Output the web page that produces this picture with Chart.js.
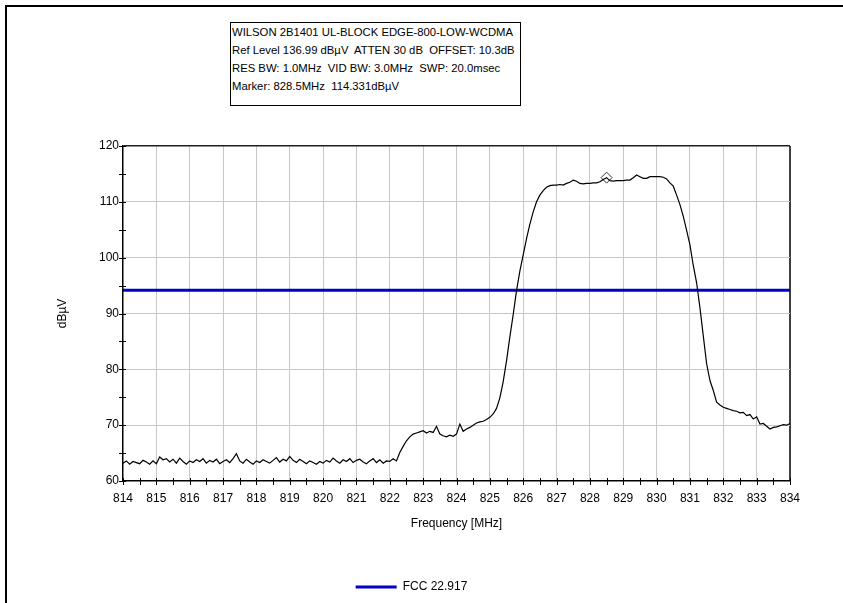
<!DOCTYPE html>
<html>
<head>
<meta charset="utf-8">
<script src="https://cdn.jsdelivr.net/npm/chart.js@4.4.1/dist/chart.umd.min.js"></script>
<style>
  body { margin: 0; background: #fff; }
  #wrap { position: relative; width: 843px; height: 603px; overflow: hidden; }
  #frame { position: absolute; left: 5px; top: 5px; width: 900px; height: 700px;
           border-top: 2px solid #000; border-left: 2px solid #000; }
  #chart { position: absolute; left: 0; top: 0; }
  #info { position: absolute; left: 230px; top: 22px; width: 288px; height: 82px;
          border: 1px solid #000; background: #fff; padding-left: 1px;
          font: 11.3px "Liberation Sans", Arial, sans-serif; line-height: 18px;
          white-space: pre; color: #000; }
</style>
</head>
<body>
<div id="wrap">
  <div id="frame"></div>
  <canvas id="chart" width="843" height="603"></canvas>
  <div id="info">WILSON 2B1401 UL-BLOCK EDGE-800-LOW-WCDMA
Ref Level 136.99 dBµV  ATTEN 30 dB  OFFSET: 10.3dB
RES BW: 1.0MHz  VID BW: 3.0MHz  SWP: 20.0msec
Marker: 828.5MHz  114.331dBµV</div>
</div>
<script>
// sweep: 814.0 .. 834.0 MHz, one reading every 0.1 MHz
var freqStart = 814;
var freqStep = 0.1;
var traceValues = [
  63.2, 63.6, 63.0, 63.5, 63.3, 63.1, 63.7, 63.4, 63.0, 63.6,
  63.1, 64.3, 63.8, 64.0, 63.4, 63.9, 63.2, 64.1, 63.5, 63.0,
  63.6, 63.3, 63.8, 63.5, 64.0, 63.2, 63.7, 63.4, 63.9, 63.1,
  63.5, 63.8, 63.3, 64.0, 64.9, 63.6, 63.2, 63.9, 63.4, 63.0,
  63.6, 63.3, 63.8, 63.5, 63.2, 63.7, 64.2, 63.4, 63.9, 63.6,
  64.4, 63.7, 63.3, 63.9, 63.5, 63.1, 63.6, 63.3, 63.0, 63.5,
  63.2, 63.7, 63.4, 64.1, 63.6, 63.2, 63.8, 63.5, 64.0, 63.3,
  63.7, 63.9, 63.4, 63.1, 63.6, 64.0, 63.3, 63.8, 63.2, 63.6,
  63.5, 64.0, 63.6, 65.1, 66.2, 67.2, 67.9, 68.4, 68.6, 68.8,
  69.0, 68.6, 68.9, 68.7, 69.8, 68.4, 68.1, 67.9, 68.2, 68.0,
  68.4, 70.2, 68.9, 69.3, 69.6, 70.0, 70.4, 70.6, 70.7, 71.0,
  71.4, 72.0, 73.0, 74.9, 77.8, 81.5, 85.8, 89.8, 94.1, 97.6,
  100.5, 103.4, 106.0, 108.2, 110.0, 111.2, 112.0, 112.6, 112.9, 113.0,
  113.0, 113.1, 113.0, 113.3, 113.5, 113.9, 113.7, 113.3, 113.2, 113.3,
  113.3, 113.4, 113.4, 113.6, 114.0, 114.33, 113.8, 113.7, 113.8, 113.8,
  113.8, 113.9, 113.9, 114.3, 114.8, 114.5, 114.2, 114.2, 114.5, 114.5,
  114.5, 114.5, 114.4, 114.1, 113.4, 112.8, 111.2, 109.5, 107.4, 104.9,
  102.3, 98.6, 95.5, 91.0, 86.0, 81.0, 78.0, 76.2, 74.1, 73.6,
  73.2, 73.0, 72.8, 72.6, 72.5, 72.2, 72.3, 71.7, 71.9, 71.1,
  71.5, 70.2, 70.3, 69.8, 69.3, 69.6, 69.7, 69.9, 70.1, 70.0,
  70.3
];
var limitLabel = 'FCC 22.917';
var limitLevel = 94.15;
var limitRange = [814, 834];
var markerFreq = 828.5;
var markerLevel = 114.331;

var tracePoints = traceValues.map(function(v, i) {
  return { x: +(freqStart + i * freqStep).toFixed(1), y: v };
});

var font = { family: '"Liberation Sans", Arial, sans-serif', size: 12 };

// small tick marks crossing the axis lines
var crossTicks = {
  id: 'crossTicks',
  afterDraw: function(chart) {
    var c = chart.ctx, a = chart.chartArea;
    var xs = chart.scales.x, ys = chart.scales.y;
    c.save();
    c.strokeStyle = '#000';
    c.lineWidth = 1;
    c.beginPath();
    xs.ticks.forEach(function(t) {
      var px = Math.round(xs.getPixelForValue(t.value)) + 0.5;
      c.moveTo(px, a.bottom - 3);
      c.lineTo(px, a.bottom + 4);
    });
    ys.ticks.forEach(function(t) {
      var py = Math.round(ys.getPixelForValue(t.value)) + 0.5;
      c.moveTo(a.left - 4, py);
      c.lineTo(a.left + 3, py);
    });
    c.stroke();
    c.restore();
  }
};

var ctx = document.getElementById('chart').getContext('2d');
var chart = new Chart(ctx, {
  type: 'line',
  data: {
    datasets: [{
      label: 'Trace',
      data: tracePoints,
      borderColor: '#000',
      borderWidth: 1.2,
      pointRadius: 0,
      tension: 0
    }, {
      label: limitLabel,
      data: [{ x: limitRange[0], y: limitLevel }, { x: limitRange[1], y: limitLevel }],
      borderColor: '#0000c8',
      backgroundColor: '#0000c8',
      borderWidth: 3,
      pointRadius: 0
    }, {
      label: 'Marker',
      data: [{ x: markerFreq, y: markerLevel }],
      showLine: false,
      pointStyle: 'rectRot',
      pointRadius: 5.5,
      borderColor: '#333',
      backgroundColor: 'rgba(0,0,0,0)',
      borderWidth: 1
    }]
  },
  options: {
    responsive: false,
    animation: false,
    devicePixelRatio: 1,
    layout: { padding: { left: 33, right: 53, top: 146, bottom: 0 } },
    plugins: {
      tooltip: { enabled: false },
      legend: {
        position: 'bottom',
        labels: {
          color: '#000',
          font: font,
          boxWidth: 41,
          boxHeight: 3,
          padding: 10,
          generateLabels: function(ch) {
            return Chart.defaults.plugins.legend.labels.generateLabels(ch)
              .filter(function(l) { return l.datasetIndex === 1; })
              .map(function(l) { l.lineWidth = 0; return l; });
          }
        }
      }
    },
    scales: {
      x: {
        type: 'linear',
        min: 814,
        max: 834,
        afterFit: function(s) { s.height = 90; },
        ticks: {
          stepSize: 0.5,
          color: '#000',
          font: font,
          padding: 10,
          maxRotation: 0,
          autoSkip: false,
          callback: function(v) { return Number.isInteger(v) ? String(v) : ''; }
        },
        grid: {
          drawTicks: false,
          color: function(c) {
            if (!c.tick) return 'rgba(0,0,0,0)';
            var v = c.tick.value;
            if (v === 834) return '#404040';
            if (v === 814 || !Number.isInteger(v)) return 'rgba(0,0,0,0)';
            return '#c8c8c8';
          },
          lineWidth: function(c) { return c.tick && c.tick.value === 834 ? 2 : 1; }
        },
        border: { color: '#000', width: 1.5 },
        title: {
          display: true,
          text: 'Frequency [MHz]',
          color: '#000',
          font: font,
          padding: { top: 0, bottom: 40 }
        }
      },
      y: {
        min: 60,
        max: 120,
        afterFit: function(s) { s.width = 90; },
        ticks: {
          stepSize: 5,
          color: '#000',
          font: font,
          padding: 4,
          callback: function(v) { return v % 10 === 0 ? String(v) : ''; }
        },
        grid: {
          drawTicks: false,
          color: function(c) {
            if (!c.tick) return 'rgba(0,0,0,0)';
            var v = c.tick.value;
            if (v === 120) return '#202020';
            if (v === 60 || v % 10 !== 0) return 'rgba(0,0,0,0)';
            return '#c8c8c8';
          },
          lineWidth: function(c) { return c.tick && c.tick.value === 120 ? 1.5 : 1; }
        },
        border: { color: '#000', width: 1.5 },
        title: {
          display: true,
          text: 'dBµV',
          color: '#000',
          font: font,
          padding: { top: 22, bottom: 0 }
        }
      }
    }
  },
  plugins: [crossTicks]
});
</script>
</body>
</html>
